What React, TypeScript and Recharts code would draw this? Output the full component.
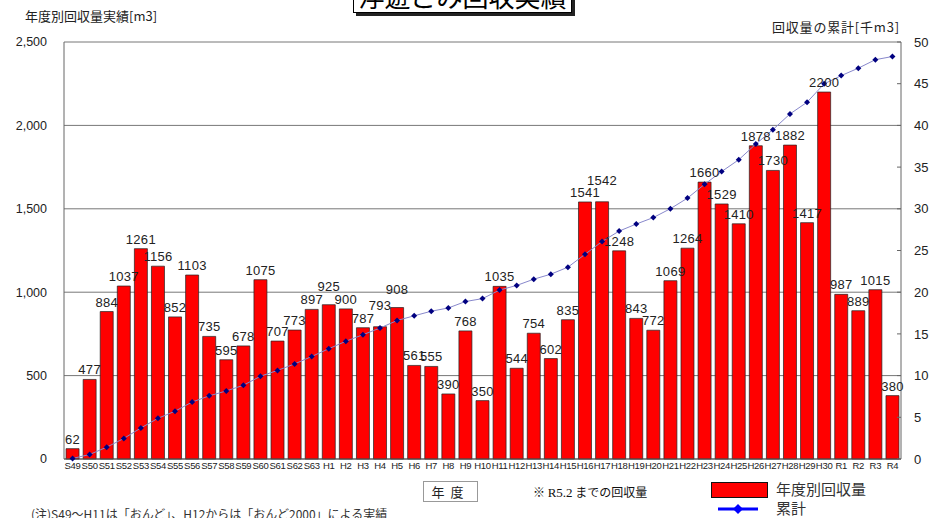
import React from "react";
import {
  Bar,
  CartesianGrid,
  ComposedChart,
  LabelList,
  Line,
  XAxis,
  YAxis,
} from "recharts";

const years = [
  "S49", "S50", "S51", "S52", "S53", "S54", "S55", "S56", "S57", "S58",
  "S59", "S60", "S61", "S62", "S63", "H1", "H2", "H3", "H4", "H5",
  "H6", "H7", "H8", "H9", "H10", "H11", "H12", "H13", "H14", "H15",
  "H16", "H17", "H18", "H19", "H20", "H21", "H22", "H23", "H24", "H25",
  "H26", "H27", "H28", "H29", "H30", "R1", "R2", "R3", "R4",
];

// 年度別回収量 [m3]
const annual = [
  62, 477, 884, 1037, 1261, 1156, 852, 1103, 735, 595,
  678, 1075, 707, 773, 897, 925, 900, 787, 793, 908,
  561, 555, 390, 768, 350, 1035, 544, 754, 602, 835,
  1541, 1542, 1248, 843, 772, 1069, 1264, 1660, 1529, 1410,
  1878, 1730, 1882, 1417, 2200, 987, 889, 1015, 380,
];

// 累計 [千m3]
const cumulative = [
  0.06, 0.54, 1.42, 2.46, 3.72, 4.88, 5.73, 6.83, 7.57, 8.16,
  8.84, 9.92, 10.62, 11.4, 12.29, 13.22, 14.12, 14.9, 15.7, 16.61,
  17.17, 17.72, 18.11, 18.88, 19.23, 20.26, 20.81, 21.56, 22.16, 23.0,
  24.54, 26.08, 27.33, 28.17, 28.95, 30.01, 31.28, 32.94, 34.47, 35.88,
  37.76, 39.49, 41.37, 42.78, 44.98, 45.97, 46.86, 47.88, 48.26,
];

const leftTicks = [0, 500, 1000, 1500, 2000, 2500];
const rightTicks = [0, 5, 10, 15, 20, 25, 30, 35, 40, 45, 50];

// labels that sit higher in the original to avoid their neighbours
const labelLift: Record<string, number> = { H1: 9, H4: 12, H5: 9, H17: 12 };

const data = years.map((year, i) => ({
  year,
  annual: annual[i],
  total: cumulative[i],
}));

const jp = '"Noto Sans CJK JP", "Noto Sans", sans-serif';
const num = '"Liberation Sans", Arial, sans-serif';

const Diamond = (props: any) => {
  const { cx, cy, index } = props;
  if (cx == null || cy == null) return null;
  return (
    <path
      key={`d-${index}`}
      d={`M${cx},${cy - 3} L${cx + 3},${cy} L${cx},${cy + 3} L${cx - 3},${cy} Z`}
      fill="#000080"
    />
  );
};

const ValueLabel = (props: any) => {
  const { x, y, width, value, index } = props;
  const lift = labelLift[years[index]] || 0;
  return (
    <text
      x={x + width / 2}
      y={y - 5 - lift}
      textAnchor="middle"
      fontSize={13}
      fill="#222"
      fontFamily={num}
      letterSpacing={0.3}
    >
      {value}
    </text>
  );
};

export default function App() {
  return (
    <div
      style={{
        position: "absolute",
        left: 0,
        top: 0,
        width: 944,
        height: 518,
        overflow: "hidden",
        background: "#fff",
        fontFamily: jp,
      }}
    >
      <ComposedChart
        width={944}
        height={518}
        data={data}
        margin={{ top: 42, right: 3, bottom: 39, left: 14 }}
        barCategoryGap="12%"
      >
        <CartesianGrid vertical={false} stroke="#777" yAxisId="left" />
        <XAxis
          dataKey="year"
          interval={0}
          tickLine={false}
          tickSize={0}
          tickMargin={3}
          height={20}
          axisLine={{ stroke: "#555" }}
          tick={{ fontSize: 9.5, fill: "#222", fontFamily: num, letterSpacing: -0.3 }}
        />
        <YAxis
          yAxisId="left"
          domain={[0, 2500]}
          ticks={leftTicks}
          width={50}
          tickLine={false}
          tickSize={0}
          tickMargin={17}
          axisLine={{ stroke: "#666" }}
          tickFormatter={(v: number) => v.toLocaleString("en-US")}
          tick={{ fontSize: 12.5, fill: "#222", fontFamily: num }}
        />
        <YAxis
          yAxisId="right"
          orientation="right"
          domain={[0, 50]}
          ticks={rightTicks}
          width={40}
          tickLine={{ stroke: "#666" }}
          tickSize={-4}
          tickMargin={17}
          axisLine={{ stroke: "#666" }}
          tick={{ fontSize: 13, fill: "#222", fontFamily: num, textAnchor: "start" }}
        />
        <Bar
          yAxisId="left"
          dataKey="annual"
          fill="#ff0000"
          stroke="#222"
          strokeWidth={0.7}
          isAnimationActive={false}
        >
          <LabelList dataKey="annual" content={ValueLabel} />
        </Bar>
        <Line
          yAxisId="right"
          dataKey="total"
          stroke="#8888cc"
          strokeWidth={1}
          dot={Diamond}
          activeDot={false}
          isAnimationActive={false}
        />
      </ComposedChart>

      {/* title box, cut at the top */}
      <div
        style={{
          position: "absolute",
          left: 353,
          top: -22,
          width: 217,
          height: 33,
          border: "1.5px solid #000",
          background: "#fff",
          boxShadow: "3px 3px 0 #222",
          fontSize: 26,
          lineHeight: "33px",
          textAlign: "center",
          color: "#000",
        }}
      >
        浮遊ごみ回収実績
      </div>

      <div style={{ position: "absolute", left: 25, top: 6, fontSize: 13, color: "#222" }}>
        年度別回収量実績[m3]
      </div>
      <div
        style={{
          position: "absolute",
          left: 772,
          top: 17,
          fontSize: 13,
          color: "#222",
          letterSpacing: 0.8,
        }}
      >
        回収量の累計[千m3]
      </div>

      {/* x axis title */}
      <div
        style={{
          position: "absolute",
          left: 423,
          top: 481,
          width: 53,
          height: 19,
          border: "1px solid #999",
          fontSize: 13,
          lineHeight: "19px",
          textAlign: "center",
          color: "#222",
          letterSpacing: 6,
        }}
      >
        年度
      </div>

      <div style={{ position: "absolute", left: 533, top: 483, fontSize: 12, color: "#111" }}>
        ※ <span style={{ fontFamily: '"Liberation Serif", serif', fontSize: 13 }}>R5.2</span> までの回収量
      </div>

      {/* legend */}
      <div
        style={{
          position: "absolute",
          left: 711,
          top: 482,
          width: 55,
          height: 14,
          background: "#ff0000",
          border: "1px solid #111",
        }}
      />
      <div style={{ position: "absolute", left: 776, top: 478, fontSize: 15, color: "#333" }}>
        年度別回収量
      </div>
      <svg style={{ position: "absolute", left: 716, top: 503 }} width={44} height={12}>
        <line x1={2} y1={6} x2={42} y2={6} stroke="#0000ff" strokeWidth={3} />
        <path d="M22,1 L27,6 L22,11 L17,6 Z" fill="#0000ff" />
      </svg>
      <div style={{ position: "absolute", left: 776, top: 497, fontSize: 15, color: "#333" }}>
        累計
      </div>

      <div style={{ position: "absolute", left: 31, top: 505, fontSize: 12, color: "#333" }}>
        (注)S49～H11は「おんど」、H12からは「おんど2000」による実績
      </div>
    </div>
  );
}
